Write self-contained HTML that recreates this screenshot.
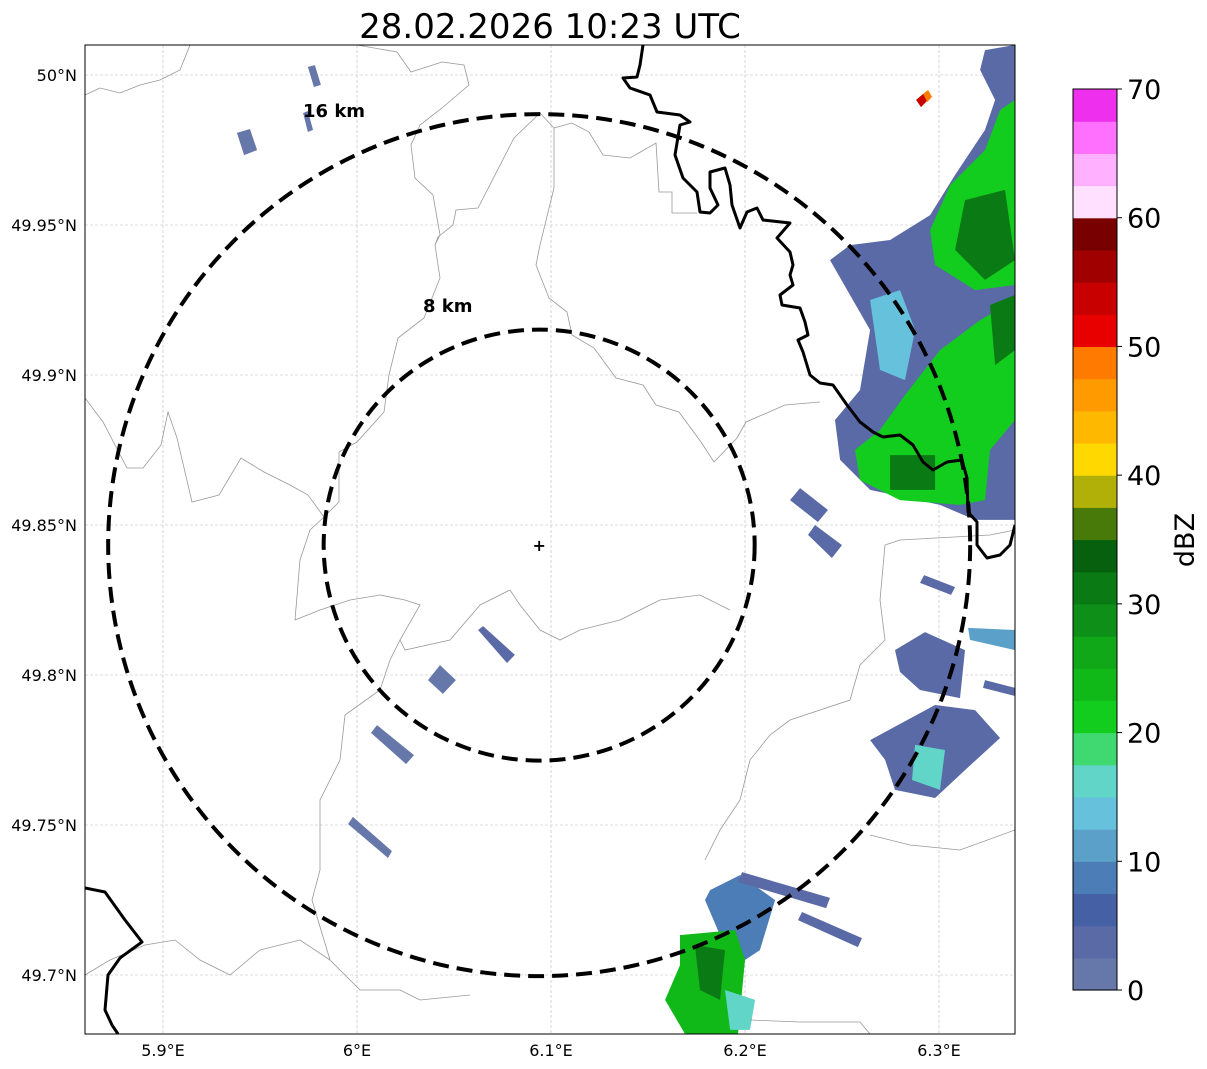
<!DOCTYPE html>
<html><head><meta charset="utf-8">
<style>
html,body{margin:0;padding:0;background:#fff;}
svg{display:block;font-family:"DejaVu Sans","Liberation Sans",sans-serif;}
</style></head>
<body>
<svg id="chart" width="1207" height="1069" viewBox="0 0 1207 1069" xmlns="http://www.w3.org/2000/svg">
<text x="550" y="38" font-size="34" text-anchor="middle" fill="#000">28.02.2026 10:23 UTC</text>
<defs><clipPath id="mapclip"><rect x="85" y="45" width="930" height="989"/></clipPath></defs>
<g id="map" clip-path="url(#mapclip)"></g>
<rect x="85" y="45" width="930" height="989" fill="none" stroke="#000" stroke-width="1"/>
<g id="axes"></g>
<g id="cbar"></g>
</svg>
<script>
// ---- data ----
const lonTicks = [5.9, 6.0, 6.1, 6.2, 6.3];
const lonTickLabels = ["5.9°E", "6°E", "6.1°E", "6.2°E", "6.3°E"];
const latTicks = [50.0, 49.95, 49.9, 49.85, 49.8, 49.75, 49.7];
const latTickLabels = ["50°N", "49.95°N", "49.9°N", "49.85°N", "49.8°N", "49.75°N", "49.7°N"];
const cbarTicks = [0, 10, 20, 30, 40, 50, 60, 70];
const cbarColors = ["#6677aa","#5a6aa6","#4660a6","#4d7db6","#5aa0c9","#66c1dc","#60d5c8","#40d870",
 "#12cc1e","#10b818","#10a818","#0e9018","#0a7a14","#07600e","#487a0a","#b0b008",
 "#ffd800","#ffb800","#ff9a00","#ff7a00","#e80000","#c80000","#a00000","#780000",
 "#ffe0ff","#ffb0ff","#ff70ff","#ee30ee"];
const radarSite = [6.0939, 49.8433];
const rangeRingsKm = [8, 16];
const echoDbz = [4, 22, 31, 22, 31, 31, 13, 54, 48, 4, 4, 3, 4, 10, 4, 4, 17, 9, 4, 4, 23, 31, 17, 2, 3, 2, 2, 1, 1, 1];
const echoPolys = [
 [[6.3237,50.0083],[6.3392,50.0100],[6.3392,49.8517],[6.3186,49.8517],[6.3005,49.8567],[6.2645,49.8617],[6.2490,49.8717],[6.2464,49.8850],[6.2593,49.8950],[6.2645,49.9150],[6.2438,49.9383],[6.2541,49.9433],[6.2748,49.9450],[6.2954,49.9533],[6.3083,49.9667],[6.3237,49.9817],[6.3289,49.9917],[6.3212,50.0017]],
 [[6.3315,49.9883],[6.3392,49.9917],[6.3392,49.9300],[6.3186,49.9283],[6.2980,49.9367],[6.2954,49.9483],[6.3057,49.9633],[6.3237,49.9750]],
 [[6.3134,49.9583],[6.3340,49.9617],[6.3392,49.9383],[6.3237,49.9317],[6.3083,49.9417]],
 [[6.3392,49.9250],[6.3392,49.8850],[6.3263,49.8750],[6.3237,49.8583],[6.3108,49.8567],[6.2799,49.8583],[6.2593,49.8650],[6.2567,49.8750],[6.2696,49.8817],[6.2825,49.8933],[6.3005,49.9083],[6.3212,49.9183]],
 [[6.3263,49.9233],[6.3392,49.9267],[6.3392,49.9083],[6.3289,49.9033]],
 [[6.2748,49.8733],[6.2980,49.8733],[6.2980,49.8617],[6.2748,49.8617]],
 [[6.2645,49.9250],[6.2799,49.9283],[6.2877,49.9150],[6.2825,49.8983],[6.2696,49.9017]],
 [[6.2882,49.9917],[6.2918,49.9937],[6.2944,49.9917],[6.2907,49.9893]],
 [[6.2918,49.9937],[6.2944,49.9950],[6.2964,49.9927],[6.2939,49.9910]],
 [[6.2232,49.8583],[6.2284,49.8623],[6.2428,49.8550],[6.2376,49.8510]],
 [[6.2325,49.8467],[6.2361,49.8500],[6.2500,49.8433],[6.2448,49.8390]],
 [[6.2902,49.8307],[6.2923,49.8333],[6.3083,49.8293],[6.3062,49.8267]],
 [[6.2773,49.8083],[6.2928,49.8143],[6.3134,49.8083],[6.3108,49.7923],[6.2902,49.7950],[6.2799,49.8010]],
 [[6.3150,49.8157],[6.3392,49.8150],[6.3392,49.8083],[6.3160,49.8117]],
 [[6.3237,49.7983],[6.3392,49.7957],[6.3392,49.7930],[6.3227,49.7957]],
 [[6.2645,49.7783],[6.2980,49.7900],[6.3186,49.7883],[6.3315,49.7790],[6.3134,49.7683],[6.2980,49.7590],[6.2773,49.7617],[6.2722,49.7717]],
 [[6.2877,49.7767],[6.3031,49.7750],[6.3005,49.7617],[6.2861,49.7650]],
 [[6.1820,49.7283],[6.1974,49.7333],[6.2155,49.7250],[6.2077,49.7083],[6.2000,49.7050],[6.1871,49.7133],[6.1794,49.7250]],
 [[6.1964,49.7310],[6.1985,49.7343],[6.2438,49.7257],[6.2418,49.7223]],
 [[6.2273,49.7183],[6.2294,49.7210],[6.2603,49.7123],[6.2582,49.7093]],
 [[6.1665,49.7133],[6.1949,49.7150],[6.2000,49.7050],[6.1964,49.6803],[6.1691,49.6803],[6.1588,49.6917],[6.1665,49.7033]],
 [[6.1742,49.7100],[6.1897,49.7083],[6.1871,49.6917],[6.1768,49.6950]],
 [[6.1897,49.6950],[6.2052,49.6917],[6.2026,49.6817],[6.1923,49.6817]],
 [[6.0366,49.7983],[6.0428,49.8033],[6.0510,49.7983],[6.0443,49.7937]],
 [[6.0624,49.8150],[6.0650,49.8163],[6.0814,49.8067],[6.0773,49.8040]],
 [[6.0072,49.7807],[6.0103,49.7833],[6.0294,49.7733],[6.0253,49.7703]],
 [[5.9954,49.7503],[5.9979,49.7527],[6.0180,49.7413],[6.0160,49.7390]],
 [[5.9381,49.9807],[5.9448,49.9820],[5.9485,49.9750],[5.9418,49.9733]],
 [[5.9747,50.0027],[5.9783,50.0033],[5.9814,49.9967],[5.9778,49.9960]],
 [[5.9722,49.9873],[5.9747,49.9880],[5.9773,49.9817],[5.9747,49.9810]]
];

// ---- axis functions ----
const X = lon => 357 + (lon - 6.0) * 1940;
const Y = lat => 75 + (50.0 - lat) * 3000;
const pxPerKm = 431 / 16;
const CB_Y = v => 990 - v * (901 / 70);
const NS = "http://www.w3.org/2000/svg";
function mk(tag, attrs, parent){ const e=document.createElementNS(NS,tag); for(const k in attrs) e.setAttribute(k,attrs[k]); parent.appendChild(e); return e; }
function colorFor(d){ return cbarColors[Math.max(0,Math.min(27,Math.floor(d/2.5)))]; }

const map = document.getElementById('map');
lonTicks.forEach(v=>{ const l=mk('line',{x1:X(v),x2:X(v),y1:45,y2:1034,stroke:'#bbb','stroke-width':0.6,'stroke-dasharray':'3,2'},map);
   });
latTicks.forEach(v=>{ const l=mk('line',{x1:85,x2:1015,y1:Y(v),y2:Y(v),stroke:'#bbb','stroke-width':0.6,'stroke-dasharray':'3,2'},map);
   });

echoPolys.forEach((poly,i)=>{
 const p=mk('polygon',{points:poly.map(q=>X(q[0]).toFixed(1)+','+Y(q[1]).toFixed(1)).join(' '),fill:colorFor(echoDbz[i])},map);
 
 
});

const thinBorders = [
 "85,95 100,88 120,93 140,85 160,80 180,70 190,45",
 "357,45 397,52 411,72 442,62 464,65 469,85 442,108 420,125 411,145 415,178 433,195 440,235 435,245 440,278 424,318 398,338 389,375 384,412 357,442 339,452 339,502 326,515",
 "540,113 554,128 554,188 540,245 536,265 549,298 567,312 572,335 594,348 616,378 643,385 656,405 679,412 701,442 714,462 737,438 746,422 785,405 820,402",
 "540,113 514,138 478,208 456,210 453,225 438,237 435,245",
 "554,128 572,123 589,132 603,155 630,158 656,143 659,192 672,192 672,213 697,213",
 "85,398 103,422 127,468 143,468 161,445 168,412 177,438 192,502 219,495 241,458 264,472 290,485 308,495 324,517 310,530 300,560 295,620 320,610 350,600 380,595 405,600 420,605 400,640 405,650 450,640 480,605 510,590 520,605 540,630 560,640 580,630 620,620 660,600 700,595 730,610",
 "400,640 390,660 380,690 345,715 340,760 320,800 320,870 312,900 330,960 360,990 400,990 420,1000 470,995",
 "85,975 110,960 145,945 175,940 200,960 230,975 260,950 300,940 330,960",
 "1015,530 990,535 900,540 885,545 880,600 885,640 860,665 850,700 790,720 770,735 750,760 740,800 720,830 705,860",
 "870,835 910,845 960,850 1015,830",
 "750,1020 800,1022 860,1022 870,1034"
];
thinBorders.forEach(s=>{ const l=mk('polyline',{points:s,fill:'none',stroke:'#999','stroke-width':0.8},map);
   });
const thickBorders = [
 "643,45 640,65 637,77 623,78 630,88 650,95 657,112 680,115 690,122 680,125 675,155 683,178 697,192 700,212 710,213 718,205 710,188 710,172 725,168 730,185 732,205 740,228 747,212 757,208 763,220 790,223 777,238 790,252 793,265 790,275 793,285 780,295 782,305 800,308 805,322 808,335 798,340 803,352 810,375 820,383 833,385 847,405 860,422 873,432 883,437 900,435 913,445 923,462 933,470 947,462 962,460 967,478 968,512 977,522 977,545 987,558 1000,555 1010,545 1015,525",
 "85,888 105,892 125,920 142,942 120,958 108,975 105,1010 112,1025 118,1034"
];
thickBorders.forEach(s=>{ const l=mk('polyline',{points:s,fill:'none',stroke:'#000','stroke-width':3,'stroke-linejoin':'round'},map);
   });

rangeRingsKm.forEach(km=>{
 const c=mk('circle',{cx:X(radarSite[0]),cy:Y(radarSite[1]),r:km*pxPerKm,fill:'none',stroke:'#000','stroke-width':4,'stroke-dasharray':'16,8'},map);
  
});
const lab16=mk('text',{x:303,y:117,'font-size':18,'font-weight':'bold'},map); lab16.textContent='16 km';
 
const lab8=mk('text',{x:423,y:312,'font-size':18,'font-weight':'bold'},map); lab8.textContent='8 km';
 
const site=mk('text',{x:X(radarSite[0]),y:Y(radarSite[1])+6,'font-size':16,'font-weight':'bold','text-anchor':'middle'},map); site.textContent='+';
 

const axes=document.getElementById('axes');
lonTicks.forEach((v,i)=>{ const t=mk('text',{x:X(v),y:1056,'font-size':16,'text-anchor':'middle'},axes); t.textContent=lonTickLabels[i];
   });
latTicks.forEach((v,i)=>{ const t=mk('text',{x:77,y:Y(v)+6,'font-size':16,'text-anchor':'end'},axes); t.textContent=latTickLabels[i];
   });

const cb=document.getElementById('cbar');
cbarColors.forEach((c,i)=>{ const r=mk('rect',{x:1073,y:CB_Y((i+1)*2.5),width:44,height:CB_Y(i*2.5)-CB_Y((i+1)*2.5)+0.6,fill:c},cb);
   });
const fr=mk('rect',{x:1073,y:CB_Y(70),width:44,height:CB_Y(0)-CB_Y(70),fill:'none',stroke:'#000','stroke-width':1},cb);
 
cbarTicks.forEach(v=>{ mk('line',{x1:1117,x2:1122,y1:CB_Y(v),y2:CB_Y(v),stroke:'#000'},cb);
 const t=mk('text',{x:1127,y:CB_Y(v)+10,'font-size':27},cb); t.textContent=String(v);
   });
const cbl=mk('text',{x:1194,y:540,'font-size':27,'text-anchor':'middle',transform:'rotate(-90 1194 540)'},cb); cbl.textContent='dBZ';
 
</script>
</body></html>
